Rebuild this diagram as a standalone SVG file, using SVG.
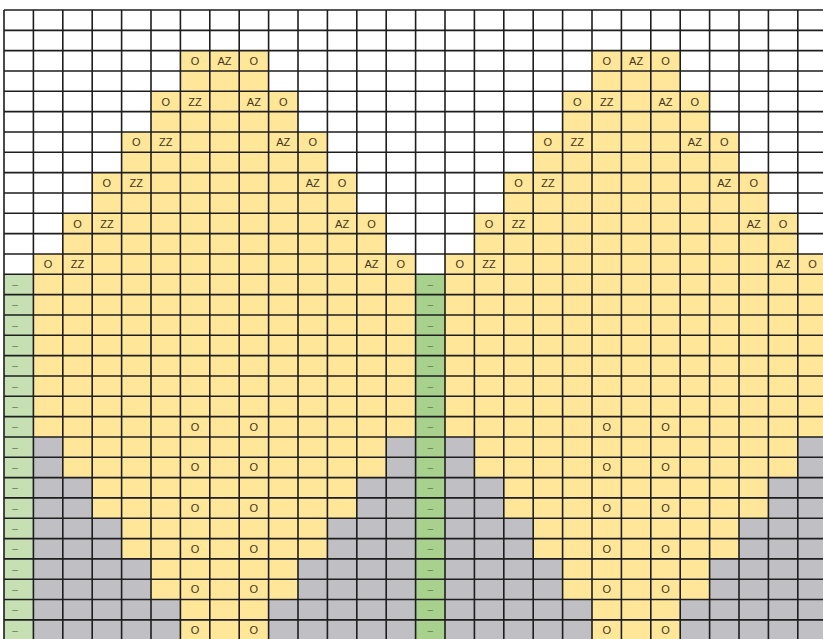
<svg xmlns="http://www.w3.org/2000/svg" width="823" height="639" viewBox="0 0 823 639">
<style>
.y{fill:#FFE699}
.g{fill:#BFBFC4}
.gr0{fill:#C6E0B4}
.gr1{fill:#A9D18E}
.t{font-family:"Liberation Sans",Arial,sans-serif;font-size:11px;fill:#3f3520;text-anchor:middle}
.d{font-family:"Liberation Sans",Arial,sans-serif;font-size:10px;fill:#5f7f55;text-anchor:middle}
.grid{fill:none;stroke:#1e1e1e;stroke-width:1.6}
</style>
<rect width="823" height="639" fill="#fff"/>
<g id="fills" transform="translate(4,10) scale(29.4,20.33)">
  <g id="motif-left">
    <rect class="y" x="6" y="2" width="3" height="2"/>
    <rect class="y" x="5" y="4" width="5" height="2"/>
    <rect class="y" x="4" y="6" width="7" height="2"/>
    <rect class="y" x="3" y="8" width="9" height="2"/>
    <rect class="y" x="2" y="10" width="11" height="2"/>
    <rect class="y" x="1" y="12" width="13" height="19"/>
    <rect class="g" x="1" y="21" width="1" height="2"/>
    <rect class="g" x="13" y="21" width="1" height="2"/>
    <rect class="g" x="1" y="23" width="2" height="2"/>
    <rect class="g" x="12" y="23" width="2" height="2"/>
    <rect class="g" x="1" y="25" width="3" height="2"/>
    <rect class="g" x="11" y="25" width="3" height="2"/>
    <rect class="g" x="1" y="27" width="4" height="2"/>
    <rect class="g" x="10" y="27" width="4" height="2"/>
    <rect class="g" x="1" y="29" width="5" height="2"/>
    <rect class="g" x="9" y="29" width="5" height="2"/>
  </g>
  <g id="motif-right">
    <rect class="y" x="20" y="2" width="3" height="2"/>
    <rect class="y" x="19" y="4" width="5" height="2"/>
    <rect class="y" x="18" y="6" width="7" height="2"/>
    <rect class="y" x="17" y="8" width="9" height="2"/>
    <rect class="y" x="16" y="10" width="11" height="2"/>
    <rect class="y" x="15" y="12" width="13" height="19"/>
    <rect class="g" x="15" y="21" width="1" height="2"/>
    <rect class="g" x="27" y="21" width="1" height="2"/>
    <rect class="g" x="15" y="23" width="2" height="2"/>
    <rect class="g" x="26" y="23" width="2" height="2"/>
    <rect class="g" x="15" y="25" width="3" height="2"/>
    <rect class="g" x="25" y="25" width="3" height="2"/>
    <rect class="g" x="15" y="27" width="4" height="2"/>
    <rect class="g" x="24" y="27" width="4" height="2"/>
    <rect class="g" x="15" y="29" width="5" height="2"/>
    <rect class="g" x="23" y="29" width="5" height="2"/>
  </g>
  <g id="edge-columns">
    <rect class="gr0" x="0" y="13" width="1" height="18"/>
    <rect class="gr1" x="14" y="13" width="1" height="18"/>
  </g>
</g>
<g id="grid">
<path class="grid" d="M4 10V639M33.4 10V639M62.8 10V639M92.2 10V639M121.6 10V639M151 10V639M180.4 10V639M209.8 10V639M239.2 10V639M268.6 10V639M298 10V639M327.4 10V639M356.8 10V639M386.2 10V639M415.6 10V639M445 10V639M474.4 10V639M503.8 10V639M533.2 10V639M562.6 10V639M592 10V639M621.4 10V639M650.8 10V639M680.2 10V639M709.6 10V639M739 10V639M768.4 10V639M797.8 10V639M4 10H823M4 30.33H823M4 50.66H823M4 70.99H823M4 91.32H823M4 111.65H823M4 131.98H823M4 152.31H823M4 172.64H823M4 192.97H823M4 213.3H823M4 233.63H823M4 253.96H823M4 274.29H823M4 294.62H823M4 314.95H823M4 335.28H823M4 355.61H823M4 375.94H823M4 396.27H823M4 416.6H823M4 436.93H823M4 457.26H823M4 477.59H823M4 497.92H823M4 518.25H823M4 538.58H823M4 558.91H823M4 579.24H823M4 599.57H823M4 619.9H823"/>
</g>
<g id="labels">
  <text class="t" x="195.1" y="64.8">O</text><text class="t" x="224.5" y="64.8">AZ</text><text class="t" x="253.9" y="64.8">O</text>
  <text class="t" x="606.7" y="64.8">O</text><text class="t" x="636.1" y="64.8">AZ</text><text class="t" x="665.5" y="64.8">O</text>
  <text class="t" x="165.7" y="105.5">O</text><text class="t" x="195.1" y="105.5">ZZ</text><text class="t" x="253.9" y="105.5">AZ</text><text class="t" x="283.3" y="105.5">O</text>
  <text class="t" x="577.3" y="105.5">O</text><text class="t" x="606.7" y="105.5">ZZ</text><text class="t" x="665.5" y="105.5">AZ</text><text class="t" x="694.9" y="105.5">O</text>
  <text class="t" x="136.3" y="146.1">O</text><text class="t" x="165.7" y="146.1">ZZ</text><text class="t" x="283.3" y="146.1">AZ</text><text class="t" x="312.7" y="146.1">O</text>
  <text class="t" x="547.9" y="146.1">O</text><text class="t" x="577.3" y="146.1">ZZ</text><text class="t" x="694.9" y="146.1">AZ</text><text class="t" x="724.3" y="146.1">O</text>
  <text class="t" x="106.9" y="186.8">O</text><text class="t" x="136.3" y="186.8">ZZ</text><text class="t" x="312.7" y="186.8">AZ</text><text class="t" x="342.1" y="186.8">O</text>
  <text class="t" x="518.5" y="186.8">O</text><text class="t" x="547.9" y="186.8">ZZ</text><text class="t" x="724.3" y="186.8">AZ</text><text class="t" x="753.7" y="186.8">O</text>
  <text class="t" x="77.5" y="227.5">O</text><text class="t" x="106.9" y="227.5">ZZ</text><text class="t" x="342.1" y="227.5">AZ</text><text class="t" x="371.5" y="227.5">O</text>
  <text class="t" x="489.1" y="227.5">O</text><text class="t" x="518.5" y="227.5">ZZ</text><text class="t" x="753.7" y="227.5">AZ</text><text class="t" x="783.1" y="227.5">O</text>
  <text class="t" x="48.1" y="268.1">O</text><text class="t" x="77.5" y="268.1">ZZ</text><text class="t" x="371.5" y="268.1">AZ</text><text class="t" x="400.9" y="268.1">O</text>
  <text class="t" x="459.7" y="268.1">O</text><text class="t" x="489.1" y="268.1">ZZ</text><text class="t" x="783.1" y="268.1">AZ</text><text class="t" x="812.5" y="268.1">O</text>
  <text class="t" x="195.1" y="430.7">O</text><text class="t" x="253.9" y="430.7">O</text><text class="t" x="606.7" y="430.7">O</text><text class="t" x="665.5" y="430.7">O</text>
  <text class="t" x="195.1" y="471.4">O</text><text class="t" x="253.9" y="471.4">O</text><text class="t" x="606.7" y="471.4">O</text><text class="t" x="665.5" y="471.4">O</text>
  <text class="t" x="195.1" y="512">O</text><text class="t" x="253.9" y="512">O</text><text class="t" x="606.7" y="512">O</text><text class="t" x="665.5" y="512">O</text>
  <text class="t" x="195.1" y="552.7">O</text><text class="t" x="253.9" y="552.7">O</text><text class="t" x="606.7" y="552.7">O</text><text class="t" x="665.5" y="552.7">O</text>
  <text class="t" x="195.1" y="593.3">O</text><text class="t" x="253.9" y="593.3">O</text><text class="t" x="606.7" y="593.3">O</text><text class="t" x="665.5" y="593.3">O</text>
  <text class="t" x="195.1" y="634">O</text><text class="t" x="253.9" y="634">O</text><text class="t" x="606.7" y="634">O</text><text class="t" x="665.5" y="634">O</text>
</g>
<g id="dashes">
  <text class="d" x="15" y="288">–</text><text class="d" x="430.3" y="288">–</text>
  <text class="d" x="15" y="308.3">–</text><text class="d" x="430.3" y="308.3">–</text>
  <text class="d" x="15" y="328.6">–</text><text class="d" x="430.3" y="328.6">–</text>
  <text class="d" x="15" y="348.9">–</text><text class="d" x="430.3" y="348.9">–</text>
  <text class="d" x="15" y="369.3">–</text><text class="d" x="430.3" y="369.3">–</text>
  <text class="d" x="15" y="389.6">–</text><text class="d" x="430.3" y="389.6">–</text>
  <text class="d" x="15" y="409.9">–</text><text class="d" x="430.3" y="409.9">–</text>
  <text class="d" x="15" y="430.2">–</text><text class="d" x="430.3" y="430.2">–</text>
  <text class="d" x="15" y="450.6">–</text><text class="d" x="430.3" y="450.6">–</text>
  <text class="d" x="15" y="470.9">–</text><text class="d" x="430.3" y="470.9">–</text>
  <text class="d" x="15" y="491.2">–</text><text class="d" x="430.3" y="491.2">–</text>
  <text class="d" x="15" y="511.5">–</text><text class="d" x="430.3" y="511.5">–</text>
  <text class="d" x="15" y="531.9">–</text><text class="d" x="430.3" y="531.9">–</text>
  <text class="d" x="15" y="552.2">–</text><text class="d" x="430.3" y="552.2">–</text>
  <text class="d" x="15" y="572.5">–</text><text class="d" x="430.3" y="572.5">–</text>
  <text class="d" x="15" y="592.8">–</text><text class="d" x="430.3" y="592.8">–</text>
  <text class="d" x="15" y="613.2">–</text><text class="d" x="430.3" y="613.2">–</text>
  <text class="d" x="15" y="633.5">–</text><text class="d" x="430.3" y="633.5">–</text>
</g>
</svg>
